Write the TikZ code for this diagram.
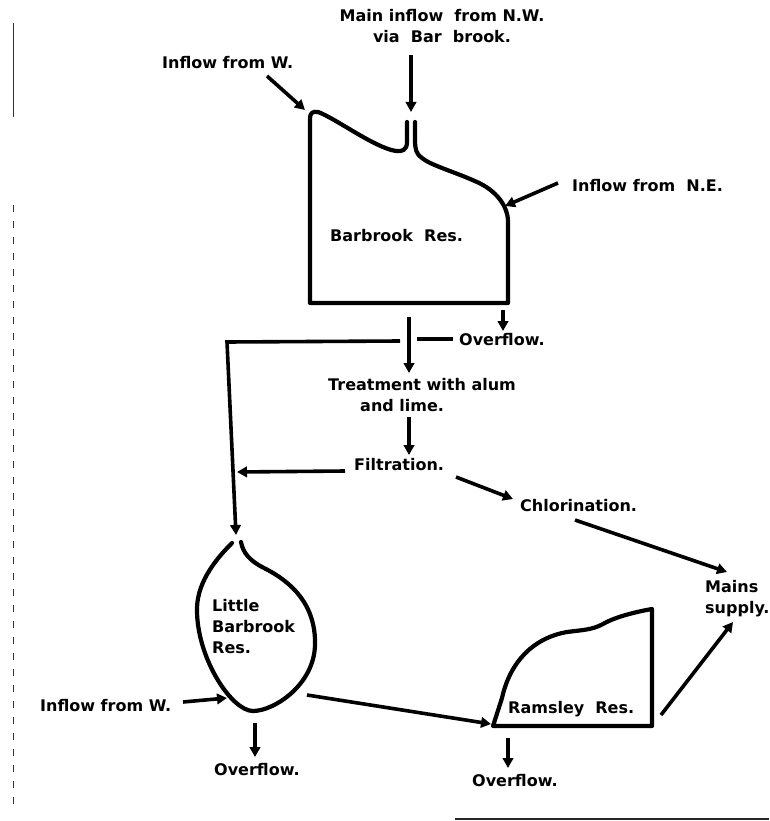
\documentclass[tikz,border=0pt]{standalone}
\usepackage{fontspec}
\setmainfont{DejaVu Sans}
\usetikzlibrary{arrows.meta}
\begin{document}
\begin{tikzpicture}[x=1pt,y=-1pt,
  lbl/.style={font=\bfseries\fontsize{16}{20.5}\selectfont, inner sep=0pt, anchor=base west},
  mlbl/.style={font=\bfseries\fontsize{16}{20.5}\selectfont, inner sep=0pt},
  flow/.style={line width=3.6pt, -{Triangle[length=10pt,width=10.5pt]}},
  pipe/.style={line width=3.6pt},
  res/.style={line width=4.2pt, line join=round, line cap=round},
  scan/.style={line width=0.9pt, black!80},
]
\useasboundingbox (0,0) rectangle (769,821);

% ---------- labels ----------
\node[mlbl, align=center, anchor=north] (mainin) at (442,9.5) {Main inflow\ \ from N.W.\\via\ \ Bar\ \ brook.};
\node[lbl] (inW1) at (162,69) {Inflow from W.};
\node[lbl] (inNE) at (572,191) {Inflow\ from\ \ N.E.};
\node[lbl] (barres) at (330,241) {Barbrook\ \ Res.};
\node[lbl] (ovf1) at (459,345) {Overflow.};
\node[mlbl, align=left, anchor=north west] (treat) at (328,378.5) {Treatment with alum\\\hspace*{32pt}and lime.};
\node[lbl] (filt) at (354,470) {Filtration.};
\node[lbl] (chlor) at (520,511) {Chlorination.};
\node[mlbl, align=left, anchor=north west] (mains) at (705,580.5) {Mains\\supply.};
\node[mlbl, font=\bfseries\fontsize{16}{21}\selectfont, align=left, anchor=north west] (lbres) at (212,599.5) {Little\\Barbrook\\Res.};
\node[lbl] (inW2) at (40,711) {Inflow from W.};
\node[lbl] (ovf2) at (214,775) {Overflow.};
\node[lbl] (ramres) at (508,713) {Ramsley\ \ Res.};
\node[lbl] (ovf3) at (472,786) {Overflow.};

% ---------- Barbrook reservoir ----------
\coordinate (bbW) at (305,110);
\coordinate (bbNE) at (505,206);
\coordinate (bbTop) at (411,112);
\coordinate (bbOvf) at (503,310);
\draw[res] (407,122) -- (407,142) .. controls (407,150) and (402,152) .. (396,151)
  .. controls (375,148) and (335,118) .. (318,112)
  .. controls (313,111) and (310,113) .. (310,118)
  -- (310,303) -- (508,303) -- (508,222)
  .. controls (508,205) and (495,190) .. (477,182)
  .. controls (455,172) and (430,165) .. (422,158)
  .. controls (417,155) and (415,150) .. (415,140) -- (415,122);

% ---------- Little Barbrook reservoir ----------
\coordinate (lbTop) at (236,535);
\draw[res] (232,543) .. controls (213,562) and (196,585) .. (197,612)
  .. controls (198,660) and (232,711) .. (253,711)
  .. controls (274,711) and (314,685) .. (315,645)
  .. controls (316,605) and (292,582) .. (264,568)
  .. controls (250,561) and (243,553) .. (241,542);

% ---------- Ramsley reservoir ----------
\draw[res] (493,726) -- (652,726) -- (652,609)
  .. controls (635,612) and (615,617) .. (603,624)
  .. controls (592,630) and (582,630) .. (567,632)
  .. controls (533,638) and (510,662) .. (502,698)
  -- cycle;

% ---------- connectors ----------
\coordinate (w1s) at (267,76);
\draw[flow] (w1s) -- (bbW);
\coordinate (mains1) at (411,55);
\draw[flow] (mains1) -- (bbTop);
\coordinate (nes) at (558,183);
\draw[flow] (nes) -- (bbNE);
\coordinate (ovfEnd) at (503,331);
\draw[flow] (bbOvf) -- (ovfEnd);
\coordinate (outS) at (409,317);
\coordinate (treatTop) at (409,373);
\draw[flow] (outS) -- (treatTop);
\coordinate (ovfL) at (453,339);
\coordinate (gapR) at (417,339);
\coordinate (gapL) at (400,341);
\coordinate (cornerL) at (227,342);
\draw[pipe] (ovfL) -- (gapR);
\draw[flow] (gapL) -- (cornerL) -- (lbTop);
\coordinate (treatBot) at (409,417);
\coordinate (filtTop) at (409,455);
\draw[flow] (treatBot) -- (filtTop);
\coordinate (filtW) at (345,471);
\coordinate (lineL) at (237,472);
\draw[flow] (filtW) -- (lineL);
\coordinate (filtE) at (456,477);
\coordinate (chlorW) at (513,499);
\draw[flow] (filtE) -- (chlorW);
\coordinate (chlorS) at (575,520);
\coordinate (mainsN) at (727,572);
\draw[flow] (chlorS) -- (mainsN);
\coordinate (ramE) at (661,715);
\coordinate (mainsS) at (733,622);
\draw[flow] (ramE) -- (mainsS);
\coordinate (w2s) at (183,702);
\coordinate (lbW) at (227,698);
\draw[flow] (w2s) -- (lbW);
\coordinate (lbS) at (255,723);
\coordinate (ovf2N) at (255,757);
\draw[flow] (lbS) -- (ovf2N);
\coordinate (lbE) at (307,695);
\coordinate (ramW) at (491,724);
\draw[flow] (lbE) -- (ramW);
\coordinate (ramS) at (508,738);
\coordinate (ovf3N) at (508,768);
\draw[flow] (ramS) -- (ovf3N);

% ---------- scan marks ----------
\draw[scan] (13,23) -- (13,117);
\draw[scan, dash pattern=on 7pt off 9pt] (13,205) -- (13,810);
\draw[line width=1.2pt, black!85] (455,819) -- (769,819);
\end{tikzpicture}
\end{document}
